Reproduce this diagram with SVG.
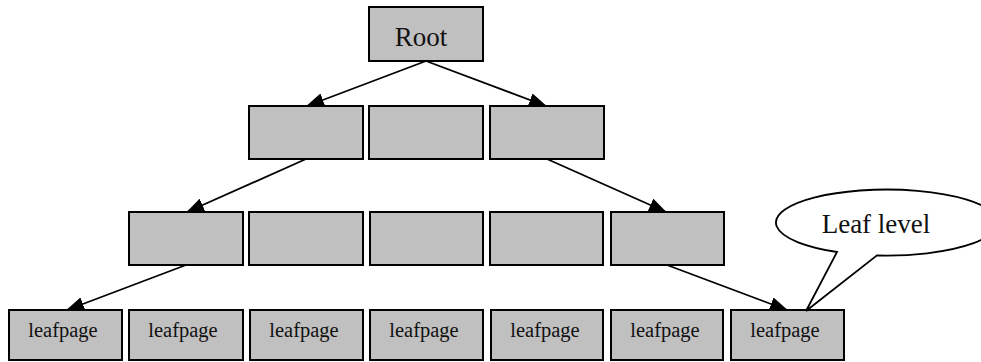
<svg xmlns="http://www.w3.org/2000/svg" width="981" height="362" viewBox="0 0 981 362">
<style>
.box{fill:#c0c0c0;stroke:#000;stroke-width:2}
.big{font-family:"Liberation Serif","Times New Roman",serif;font-size:27px;fill:#111;text-anchor:middle}
.small{font-family:"Liberation Serif","Times New Roman",serif;font-size:20.5px;fill:#111;text-anchor:middle}
.edge{stroke:#000;stroke-width:1.8;fill:none;marker-end:url(#ah)}
</style>
<defs>
<marker id="ah" markerUnits="userSpaceOnUse" markerWidth="18" markerHeight="14" viewBox="0 0 18 14" refX="17" refY="7" orient="auto">
<path d="M0,0 L18,7 L0,14 Z" fill="#000"/>
</marker>
</defs>
<rect width="981" height="362" fill="#fff"/>
<g id="connectors">
<line class="edge" x1="426" y1="61" x2="307" y2="106"/>
<line class="edge" x1="426" y1="61" x2="546" y2="106"/>
<line class="edge" x1="306" y1="159" x2="187" y2="212"/>
<line class="edge" x1="547" y1="159" x2="666" y2="212"/>
<line class="edge" x1="186" y1="265" x2="67" y2="310"/>
<line class="edge" x1="667" y1="265" x2="787" y2="310"/>
</g>
<g id="root"><rect class="box" x="369" y="7" width="114" height="54"/><text class="big" x="421" y="46">Root</text></g>
<g id="l2-1"><rect class="box" x="249" y="106" width="114" height="53"/></g>
<g id="l2-2"><rect class="box" x="369" y="106" width="114" height="53"/></g>
<g id="l2-3"><rect class="box" x="490" y="106" width="114" height="53"/></g>
<g id="l3-1"><rect class="box" x="129" y="212" width="114" height="53"/></g>
<g id="l3-2"><rect class="box" x="249" y="212" width="114" height="53"/></g>
<g id="l3-3"><rect class="box" x="370" y="212" width="113" height="53"/></g>
<g id="l3-4"><rect class="box" x="490" y="212" width="113" height="53"/></g>
<g id="l3-5"><rect class="box" x="611" y="212" width="113" height="53"/></g>
<g id="leaf-1"><rect class="box" x="9" y="310" width="113" height="50"/><text class="small" x="63" y="337">leafpage</text></g>
<g id="leaf-2"><rect class="box" x="129" y="310" width="114" height="50"/><text class="small" x="183" y="337">leafpage</text></g>
<g id="leaf-3"><rect class="box" x="250" y="310" width="113" height="50"/><text class="small" x="304" y="337">leafpage</text></g>
<g id="leaf-4"><rect class="box" x="370" y="310" width="113" height="50"/><text class="small" x="424" y="337">leafpage</text></g>
<g id="leaf-5"><rect class="box" x="491" y="310" width="112" height="50"/><text class="small" x="545" y="337">leafpage</text></g>
<g id="leaf-6"><rect class="box" x="611" y="310" width="112" height="50"/><text class="small" x="665" y="337">leafpage</text></g>
<g id="leaf-7"><rect class="box" x="731" y="310" width="113" height="50"/><text class="small" x="785" y="337">leafpage</text></g>
<g id="callout">
<path d="M837,252 A111,33 0 1 1 877,255.4 L806,311 Z" fill="#fff" stroke="#000" stroke-width="1.8" stroke-linejoin="miter"/>
<text class="big" x="876" y="233">Leaf level</text>
</g>
</svg>
